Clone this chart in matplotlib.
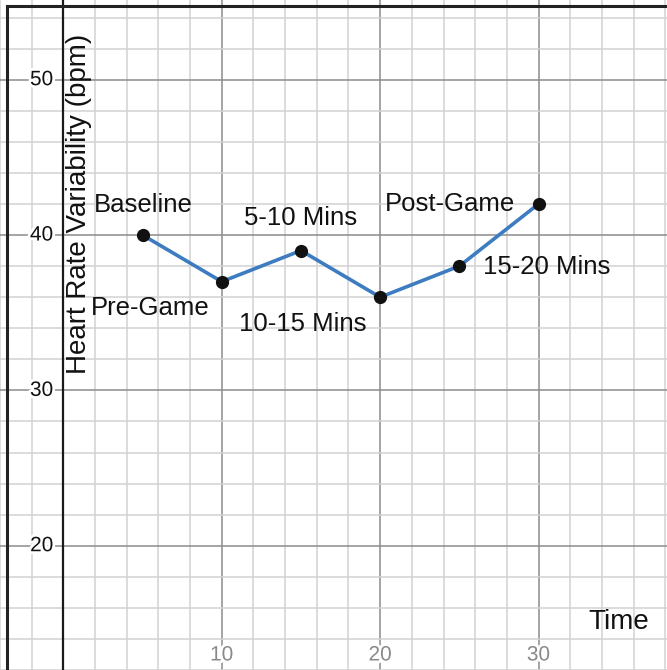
import numpy as np
import matplotlib
matplotlib.use("Agg")
import matplotlib.pyplot as plt
import matplotlib.patheffects as pe
from matplotlib.lines import Line2D

plt.rcParams['font.family'] = ['Liberation Sans', 'DejaVu Sans']

# data
times = [5, 10, 15, 20, 25, 30]
hrv = [40, 37, 39, 36, 38, 42]
labels = ["Baseline", "Pre-Game", "5-10 Mins", "10-15 Mins", "15-20 Mins", "Post-Game"]
x_ticks = [10, 20, 30]
y_ticks = [20, 30, 40, 50]

# label placement (pixel offsets from the point, alignment)
label_offsets = [(1, 30, 'center'), (-12, -26, 'right'), (0, 33, 'center'),
                 (-14, -27, 'right'), (24, -1, 'left'), (-23, 0, 'right')]

fig = plt.figure(figsize=(6.67, 6.70), dpi=100)
ax = fig.add_axes([0, 0, 1, 1])
ax.set_xlim(-4.0, 38.11)
ax.set_ylim(12.54, 55.13)

# grid like a graphing calculator
ax.set_xticks(np.arange(-4, 40, 2), minor=True)
ax.set_yticks(np.arange(12, 56, 2), minor=True)
ax.set_xticks([0, 10, 20, 30])
ax.set_yticks([20, 30, 40, 50])
ax.grid(which='minor', color='#d2d2d2', lw=1.1)
ax.grid(which='major', color='#8c8c8c', lw=1.1)
ax.set_axisbelow(True)
ax.tick_params(which='both', length=0, labelbottom=False, labelleft=False)
for s in ax.spines.values():
    s.set_visible(False)

# y axis line
ax.axvline(0, color='#1a1a1a', lw=1.6, zorder=1)

px = 72 / 100  # pixels to points

halo = [pe.withStroke(linewidth=4, foreground='white')]
for t in y_ticks:
    ax.annotate(str(t), xy=(0, t), xytext=(-10 * px, 0), textcoords='offset points',
                ha='right', va='center', fontsize=15, color='#111111', path_effects=halo)
for t in x_ticks:
    ax.annotate(str(t), xy=(t, 0), xycoords=('data', 'axes fraction'),
                xytext=(0, 15 * px), textcoords='offset points',
                ha='center', va='center', fontsize=15, color='#8a8a8a', path_effects=halo)

ax.plot(times, hrv, color='#3d7cc0', lw=2.6, zorder=3, solid_capstyle='round')
ax.plot(times, hrv, 'o', color='#111111', ms=8.5, zorder=4)

for x, y, lab, (dx, dy, ha) in zip(times, hrv, labels, label_offsets):
    ax.annotate(lab, xy=(x, y), xytext=(dx * px, dy * px), textcoords='offset points',
                ha=ha, va='center', fontsize=18.5, color='#111111', zorder=5)

ax.annotate("Heart Rate Variability (bpm)", xy=(0, 0.696), xycoords=('data', 'axes fraction'),
            xytext=(3 * px, 0), textcoords='offset points', rotation=90,
            ha='left', va='center', fontsize=20, color='#111111')
ax.text(0.928, 0.072, "Time", transform=ax.transAxes, ha='center', va='center',
        fontsize=20, color='#111111')

# screenshot frame on the left and top
fig.add_artist(Line2D([7 / 667, 7 / 667], [0, 1 - 5.5 / 670], color='#222222', lw=2.2))
fig.add_artist(Line2D([7 / 667, 1], [1 - 5.5 / 670, 1 - 5.5 / 670], color='#222222', lw=2.2))

fig.savefig("out.png", dpi=100)
